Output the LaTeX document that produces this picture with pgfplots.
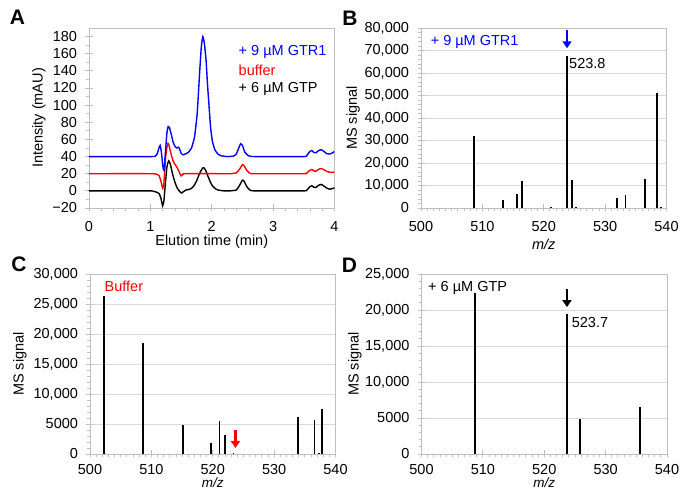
\documentclass[border=0pt]{standalone}
\usepackage{fontspec}
\setmainfont{Liberation Sans}
\usepackage{pgfplots}
\pgfplotsset{compat=1.18}
\usetikzlibrary{arrows.meta}
\definecolor{axgray}{HTML}{BFBFBF}
\definecolor{gridgray}{HTML}{D9D9D9}
\definecolor{xblue}{HTML}{0000FF}
\definecolor{xred}{HTML}{FF0000}
\newcommand{\fs}{\fontsize{14.5}{16.5}\selectfont}
\tikzset{bigarrow/.style={line width=2.6pt, -{Triangle[width=9pt,length=7pt]}}}
\pgfplotsset{
 panel/.style={
  scale only axis, width=245.5pt, height=180pt,
  anchor=south west,
  scaled y ticks=false, scaled x ticks=false,
  axis line style={axgray, line width=0.8pt},
  tick style={axgray, line width=0.8pt},
  tick align=center,
  major tick length=7pt,
  minor tick length=3pt,
  minor x tick style={yshift=-1.5pt},
  minor y tick style={xshift=-1.5pt},
  xtick pos=bottom, ytick pos=left,
  tick label style={font=\fs, text=black},
  label style={font=\fs, text=black},
  yticklabel style={xshift=-5pt},
 },
 ms/.style={
  panel, xmin=500, xmax=540, ymin=0,
  xtick={500,510,520,530,540}, xticklabels={500,510,520,530,540},
  minor x tick num=9, minor y tick num=4,
  ymajorgrids, major grid style={gridgray, line width=0.8pt},
  xlabel={\itshape m/z}, ylabel={MS signal},
 },
 bars/.style={ycomb, black, line width=1.6pt},
}
\begin{document}
\begin{tikzpicture}
\useasboundingbox (0,0) rectangle (681pt,490pt);

% ---------------- A ----------------
\begin{axis}[panel, at={(89pt,282pt)},
  xmin=0, xmax=4, ymin=-20, ymax=190,
  xtick={0,1,2,3,4}, xticklabels={0,1,2,3,4},
  xticklabel style={yshift=-6pt},
  ytick={-20,0,20,40,60,80,100,120,140,160,180},
  yticklabels={−20,0,20,40,60,80,100,120,140,160,180},
  minor x tick num=4, minor y tick num=1,
  xlabel={Elution time (min)}, ylabel={Intensity (mAU)},
  xlabel style={at={(axis description cs:0.5,-0.19)}, anchor=center},
  ylabel style={at={(axis description cs:-0.204,0.5)}, anchor=center},
  every axis plot/.append style={line width=1.4pt, smooth, tension=0.3},
]
\addplot[black] coordinates {
(0,0) (0.5,0) (1.0,0) (1.05,-0.5) (1.1,-1.5) (1.14,-3) (1.17,-8) (1.2,-17.5)
(1.22,-12) (1.24,5) (1.27,28) (1.3,35) (1.33,30) (1.36,20) (1.4,10) (1.44,3)
(1.48,-1) (1.51,-2.5) (1.54,-1) (1.58,1) (1.62,1.5) (1.66,2.5) (1.7,5) (1.75,11)
(1.8,20) (1.85,26.5) (1.87,27) (1.9,24) (1.95,15) (2.0,7) (2.05,3) (2.1,1)
(2.2,0) (2.3,0) (2.4,1) (2.45,6) (2.5,12.5) (2.53,11) (2.57,5) (2.62,1) (2.7,0)
(3.5,0) (3.55,1) (3.6,5) (3.63,6) (3.67,4) (3.7,4) (3.74,6.5) (3.78,7.5)
(3.82,6) (3.88,3) (3.93,2) (4.0,3.5)};
\addplot[xred] coordinates {
(0,20) (1.0,20) (1.1,19.5) (1.14,18) (1.17,12) (1.2,3) (1.22,8) (1.25,40)
(1.28,55) (1.3,54) (1.33,45) (1.37,35) (1.4,31) (1.43,28) (1.47,22) (1.5,17.5)
(1.53,19) (1.56,20) (2.2,20) (2.3,20) (2.4,21) (2.45,25) (2.5,30.5) (2.53,29)
(2.57,24) (2.62,20.5) (2.7,20) (3.5,20) (3.55,21) (3.6,24) (3.63,25) (3.67,23)
(3.7,23) (3.75,25.5) (3.78,26) (3.82,25) (3.88,22.5) (3.95,21.5) (4.0,22)};
\addplot[xblue] coordinates {
(0,40) (1.0,40) (1.08,40.5) (1.11,43) (1.14,50) (1.16,53) (1.18,45) (1.2,30)
(1.22,24) (1.24,40) (1.27,68) (1.29,75) (1.31,74) (1.34,66) (1.37,57) (1.4,52)
(1.43,50) (1.46,51) (1.48,48) (1.5,44) (1.53,42) (1.57,43) (1.62,45) (1.67,50)
(1.72,63) (1.76,88) (1.78,110) (1.8,135) (1.83,168) (1.855,180) (1.88,172)
(1.91,150) (1.93,125) (1.95,105) (1.98,75) (2.01,58) (2.05,48) (2.1,43)
(2.15,41) (2.25,40) (2.35,40.5) (2.4,43) (2.44,50) (2.47,55) (2.5,53) (2.54,45)
(2.6,41) (2.7,40) (3.5,40) (3.55,41.5) (3.6,46) (3.63,47) (3.67,44.5) (3.7,44.5)
(3.74,47) (3.78,48) (3.82,46.5) (3.87,43.5) (3.92,43) (3.96,44) (4.0,46)};
\node[anchor=west, text=xblue, font=\fs, inner sep=1pt] at (axis cs:2.42,162.4) {+ 9 µM GTR1};
\node[anchor=west, text=xred, font=\fs, inner sep=1pt] at (axis cs:2.42,140.8) {buffer};
\node[anchor=west, text=black, font=\fs, inner sep=1pt] at (axis cs:2.42,119) {+ 6 µM GTP};
\end{axis}

% ---------------- B ----------------
\begin{axis}[ms, at={(421pt,282pt)}, ymax=80000,
  ytick={0,10000,20000,30000,40000,50000,60000,70000,80000},
  yticklabels={0,{10,000},{20,000},{30,000},{40,000},{50,000},{60,000},{70,000},{80,000}},
  xticklabel style={yshift=-6pt},
  xlabel style={at={(axis description cs:0.5,-0.2)}, anchor=center},
  ylabel style={at={(axis description cs:-0.276,0.5)}, anchor=center},
]
\addplot[bars] coordinates {
(508.6,32000) (513.4,3600) (515.6,6200) (516.5,12000) (521.2,300)
(523.8,67700) (524.6,12300) (525.3,500) (531.9,4400) (533.3,5800)
(536.5,12900) (538.5,50900) (539.1,300)};
\draw[bigarrow, xblue] (axis cs:523.8,79300) -- (axis cs:523.8,71000);
\node[anchor=west, font=\fs, inner sep=1pt] at (axis cs:523.95,64400) {523.8};
\node[anchor=west, text=xblue, font=\fs, inner sep=1pt] at (axis cs:501.4,73800) {+ 9 µM GTR1};
\end{axis}

% ---------------- C ----------------
\begin{axis}[ms, at={(90pt,36pt)}, ymax=30000,
  ytick={0,5000,10000,15000,20000,25000,30000},
  yticklabels={0,5000,{10,000},{15,000},{20,000},{25,000},{30,000}},
  xticklabel style={yshift=-3.5pt},
  xlabel style={at={(axis description cs:0.5,-0.162)}, anchor=center, inner sep=0.5pt,
    font=\fontsize{13.5}{15}\selectfont},
  ylabel style={at={(axis description cs:-0.286,0.5)}, anchor=center},
]
\addplot[bars] coordinates {
(502.3,26300) (508.65,18500) (515.2,4760) (519.75,1900) (521.1,5480)
(522.0,3100) (523.4,100) (533.9,6100) (536.6,5600) (537.3,100) (537.8,7500)};
\draw[bigarrow, xred] (axis cs:523.7,4000) -- (axis cs:523.7,1000);
\node[anchor=west, text=xred, font=\fs, inner sep=1pt] at (axis cs:502.2,27900) {Buffer};
\end{axis}

% ---------------- D ----------------
\begin{axis}[ms, at={(421.5pt,36pt)}, ymax=25000,
  ytick={0,5000,10000,15000,20000,25000},
  yticklabels={0,5000,{10,000},{15,000},{20,000},{25,000}},
  xticklabel style={yshift=-3.5pt},
  xlabel style={at={(axis description cs:0.5,-0.162)}, anchor=center, inner sep=0.5pt,
    font=\fontsize{13.5}{15}\selectfont},
  ylabel style={at={(axis description cs:-0.271,0.5)}, anchor=center},
]
\addplot[bars] coordinates {
(508.75,22300) (523.7,19400) (525.8,4800) (535.6,6500)};
\draw[bigarrow, black] (axis cs:523.7,22900) -- (axis cs:523.7,20400);
\node[anchor=west, font=\fs, inner sep=1pt] at (axis cs:524.3,18300) {523.7};
\node[anchor=west, font=\fs, inner sep=1pt] at (axis cs:500.9,23000) {+ 6 µM GTP};
\end{axis}

% panel letters
\node[font=\fontsize{21}{24}\selectfont\bfseries] at (17.5pt,472.5pt) {A};
\node[font=\fontsize{21}{24}\selectfont\bfseries] at (350pt,471.5pt) {B};
\node[font=\fontsize{21}{24}\selectfont\bfseries] at (19pt,225.5pt) {C};
\node[font=\fontsize{21}{24}\selectfont\bfseries] at (349.5pt,224.5pt) {D};
\end{tikzpicture}
\end{document}
